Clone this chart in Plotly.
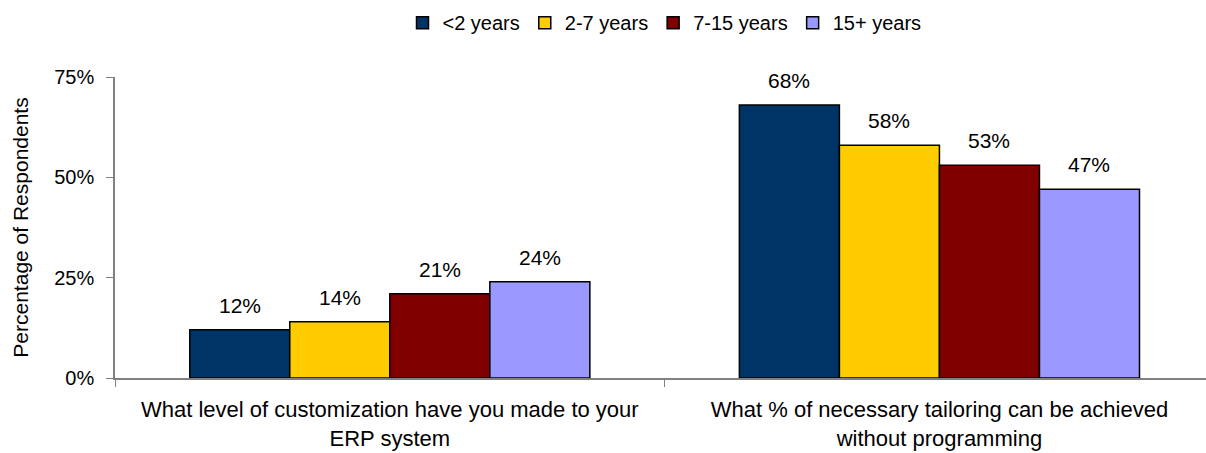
import plotly.graph_objects as go

# Survey questions (x categories)
questions = [
    "What level of customization have you made to your<br>ERP system",
    "What % of necessary tailoring can be achieved<br>without programming",
]

# Respondent groups by years on current ERP system
groups = ["<2 years", "2-7 years", "7-15 years", "15+ years"]
colors = ["#003366", "#FFCC00", "#800000", "#9999FF"]

# Percentage of respondents per group, per question
pct_lt2 = [12, 68]
pct_2_7 = [14, 58]
pct_7_15 = [21, 53]
pct_15p = [24, 47]
series = [pct_lt2, pct_2_7, pct_7_15, pct_15p]

y_ticks = [0, 25, 50, 75]
y_tick_text = ["0%", "25%", "50%", "75%"]

FONT = "Liberation Sans, Arial, sans-serif"
BARGAP = 0.272

fig = go.Figure()
for name, vals, col in zip(groups, series, colors):
    fig.add_trace(go.Bar(
        name=name,
        x=questions,
        y=vals,
        marker=dict(color=col, line=dict(color="#000000", width=1.5)),
        hoverinfo="skip",
    ))

# Value labels above each bar, placed at the bar's slot within its group
n = len(groups)
slot = (1 - BARGAP) / n
for gi, vals in enumerate(series):
    for qi, v in enumerate(vals):
        fig.add_annotation(
            x=qi + (gi - (n - 1) / 2) * slot,
            y=v,
            xref="x", yref="y",
            text=f"{v}%",
            showarrow=False,
            yanchor="bottom",
            yshift=11,
            font=dict(family=FONT, size=21, color="#000000"),
        )

fig.update_layout(
    width=1206,
    height=453,
    margin=dict(l=115, r=0, t=77, b=75),
    paper_bgcolor="white",
    plot_bgcolor="white",
    barmode="group",
    bargap=BARGAP,
    bargroupgap=0,
    font=dict(family=FONT, size=20, color="#000000"),
    showlegend=True,
    legend=dict(
        orientation="h",
        xref="container", yref="container",
        x=0.551, xanchor="center",
        y=0.95, yanchor="middle",
        font=dict(family=FONT, size=20, color="#000000"),
        itemwidth=30,
        traceorder="normal",
    ),
    xaxis=dict(
        type="category",
        range=[-0.5, 1.485],
        showline=True,
        linecolor="#808080",
        linewidth=1.5,
        ticks="outside",
        tickson="boundaries",
        ticklen=7,
        tickcolor="#808080",
        tickwidth=1,
        showgrid=False,
        zeroline=False,
        ticklabelstandoff=11,
        tickfont=dict(family=FONT, size=22, color="#000000"),
    ),
    yaxis=dict(
        range=[0, 75],
        tickvals=y_ticks,
        ticktext=y_tick_text,
        showline=True,
        linecolor="#808080",
        linewidth=1.5,
        ticks="outside",
        ticklen=7,
        tickcolor="#808080",
        tickwidth=1,
        showgrid=False,
        zeroline=False,
        ticklabelstandoff=8,
        tickfont=dict(family=FONT, size=20, color="#000000"),
        title=dict(text="Percentage of Respondents", standoff=20,
                   font=dict(family=FONT, size=21, color="#000000")),
    ),
)

fig.write_html("out.html")
